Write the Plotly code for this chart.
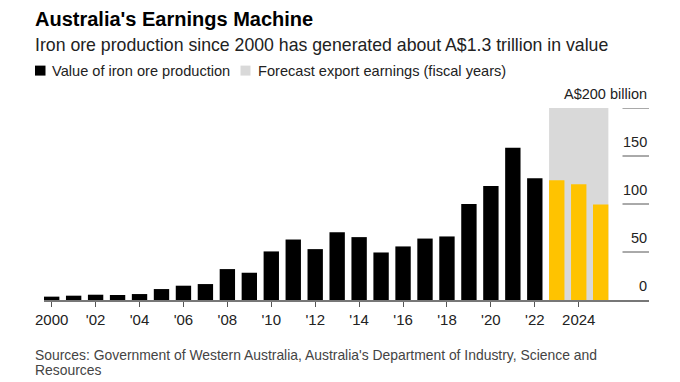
import plotly.graph_objects as go

years = list(range(2000, 2023))
values = [3.5, 4.5, 5.5, 5.2, 6.2, 11.4, 14.9, 16.6, 32.2, 28.4, 50.6, 63.0, 53.0,
          70.6, 65.5, 49.5, 55.8, 64.0, 66.2, 100.0, 118.8, 158.6, 126.8]
forecast_years = [2023, 2024, 2025]
forecast_values = [124.7, 120.5, 99.4]

tick_years = list(range(2000, 2025, 2))
tick_labels = ["2000", "'02", "'04", "'06", "'08", "'10", "'12", "'14", "'16", "'18", "'20", "'22", "2024"]

y_ticks = [0, 50, 100, 150, 200]
y_labels = ["0", "50", "100", "150", "A$200 billion"]

OFF = 8  # page body margin
W, H = 680 - OFF, 382 - OFF
L, R = 44, 649
T, B = 107.5, 300
FONT = "Liberation Sans, Arial, Helvetica, sans-serif"

def px(x):
    return (x - L) / (R - L)

def py(y):
    return (B - y) / (B - T)

fig = go.Figure()
fig.add_trace(go.Bar(x=years, y=values, marker=dict(color="#000000", line=dict(width=0)),
                     width=0.7, showlegend=False, hoverinfo="x+y"))
fig.add_trace(go.Bar(x=forecast_years, y=forecast_values, marker=dict(color="#ffc300", line=dict(width=0)),
                     width=0.7, showlegend=False, hoverinfo="x+y"))

shapes = []
shapes.append(dict(type="rect", xref="x", yref="y", x0=forecast_years[0] - 0.35, x1=forecast_years[-1] + 0.35,
                   y0=0, y1=200, fillcolor="#d9d9d9", line=dict(width=0), layer="below"))
for v in y_ticks[1:]:
    shapes.append(dict(type="line", xref="paper", yref="y", x0=px(622.5), x1=1, y0=v, y1=v,
                       line=dict(color="#555555", width=1)))
shapes.append(dict(type="rect", xref="paper", yref="paper", x0=px(35), x1=px(45.5), y0=py(75), y1=py(65),
                   fillcolor="#000000", line=dict(width=0)))
shapes.append(dict(type="rect", xref="paper", yref="paper", x0=px(240.5), x1=px(250.5), y0=py(75), y1=py(65),
                   fillcolor="#d9d9d9", line=dict(width=0)))

annotations = []
for v, lab in zip(y_ticks, y_labels):
    annotations.append(dict(xref="paper", yref="y", x=1, y=v, text=lab, showarrow=False,
                            xanchor="right", yanchor="middle", yshift=14,
                            font=dict(family=FONT, size=14.5, color="#222222")))
annotations.append(dict(xref="paper", yref="paper", x=px(33), y=py(18.5), text="<b>Australia's Earnings Machine</b>",
                        showarrow=False, xanchor="left", yanchor="middle",
                        font=dict(family=FONT, size=20, color="#000000")))
annotations.append(dict(xref="paper", yref="paper", x=px(33), y=py(44.5),
                        text="Iron ore production since 2000 has generated about A$1.3 trillion in value",
                        showarrow=False, xanchor="left", yanchor="middle",
                        font=dict(family=FONT, size=17.7, color="#222222")))
annotations.append(dict(xref="paper", yref="paper", x=px(49.5), y=py(70.5), text="Value of iron ore production",
                        showarrow=False, xanchor="left", yanchor="middle",
                        font=dict(family=FONT, size=14.6, color="#222222")))
annotations.append(dict(xref="paper", yref="paper", x=px(256), y=py(70.5),
                        text="Forecast export earnings (fiscal years)",
                        showarrow=False, xanchor="left", yanchor="middle",
                        font=dict(family=FONT, size=14.6, color="#222222")))
annotations.append(dict(xref="paper", yref="paper", x=px(33), y=py(355),
                        text="Sources: Government of Western Australia, Australia's Department of Industry, Science and",
                        showarrow=False, xanchor="left", yanchor="middle", align="left",
                        font=dict(family=FONT, size=13.9, color="#444444")))
annotations.append(dict(xref="paper", yref="paper", x=px(33), y=py(370),
                        text="Resources",
                        showarrow=False, xanchor="left", yanchor="middle", align="left",
                        font=dict(family=FONT, size=13.9, color="#444444")))

fig.update_layout(
    width=W, height=H,
    margin=dict(l=L - OFF, r=(W + OFF) - R, t=T - OFF, b=(H + OFF) - B, pad=0),
    paper_bgcolor="#ffffff", plot_bgcolor="#ffffff",
    barmode="overlay",
    shapes=shapes, annotations=annotations,
    showlegend=False,
    xaxis=dict(range=[1999.65, 2027.2], tickvals=tick_years, ticktext=tick_labels,
               showgrid=False, zeroline=False, showline=True, linecolor="#777777", linewidth=2,
               ticks="outside", ticklen=5, tickcolor="#555555", tickwidth=1,
               tickfont=dict(family=FONT, size=15, color="#222222"), fixedrange=True),
    yaxis=dict(range=[0, 200], showgrid=False, zeroline=False, showticklabels=False,
               showline=False, fixedrange=True),
)

fig.write_html("out.html")
